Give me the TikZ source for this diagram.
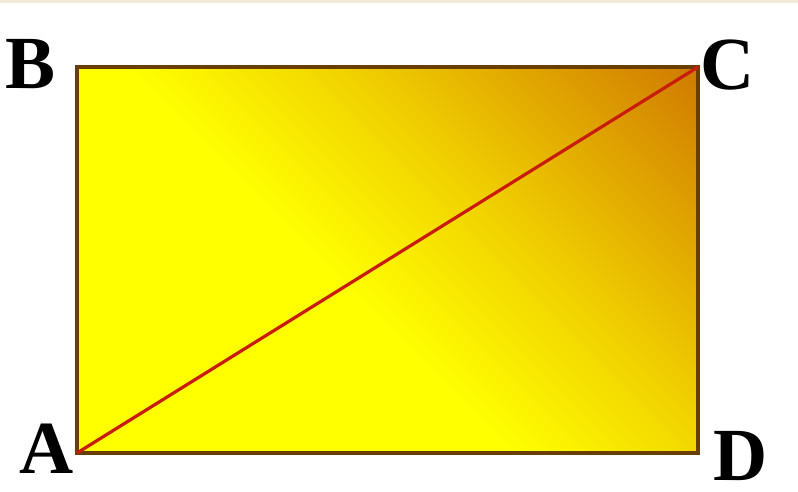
\documentclass[tikz,border=0pt]{standalone}
\usepackage{fontspec}
\setmainfont{Liberation Serif}
\usetikzlibrary{positioning}
\definecolor{bandbeige}{RGB}{243,234,214}
\definecolor{fillyellow}{RGB}{255,255,0}
\definecolor{fillgold}{RGB}{240,208,0}
\definecolor{fillorange}{RGB}{206,118,0}
\definecolor{edgebrown}{RGB}{105,62,5}
\definecolor{diagred}{RGB}{200,28,12}
\pgfdeclarehorizontalshading{rectfill}{100bp}{color(0bp)=(fillyellow); color(47bp)=(fillyellow); color(57bp)=(fillgold); color(73bp)=(fillorange); color(100bp)=(fillorange)}
\tikzstyle{vertex}=[font={\fontsize{75}{78}\selectfont\bfseries}, inner sep=0pt]
\tikzstyle{rectedge}=[draw=edgebrown, line width=3.5pt]
\tikzstyle{diag}=[draw=diagred, line width=3.2pt]

\begin{document}
\begin{tikzpicture}[x=1pt,y=-1pt]
\useasboundingbox (0,0) rectangle (798,492);
\fill[bandbeige] (0,0) rectangle (798,3);
% corners of the rectangle
\coordinate (a) at (77,453);
\coordinate (b) at (77,67);
\coordinate (c) at (698,67);
\coordinate (d) at (698,453);
\begin{scope}
\clip (a) rectangle (c);
\shade[shading=rectfill, shading angle=45] (-12.5,-140) rectangle (787.5,660);
\end{scope}
\draw[rectedge] (a) -- (b) -- (c) -- (d) -- cycle;
\draw[diag] (a) -- (c);
% vertex labels
\node[vertex] (labA) at (47,449) {A};
\node[vertex] (labB) at (31,64) {B};
\node[vertex] (labC) at (728,65) {C};
\node[vertex] (labD) at (741,456) {D};
\end{tikzpicture}
\end{document}
